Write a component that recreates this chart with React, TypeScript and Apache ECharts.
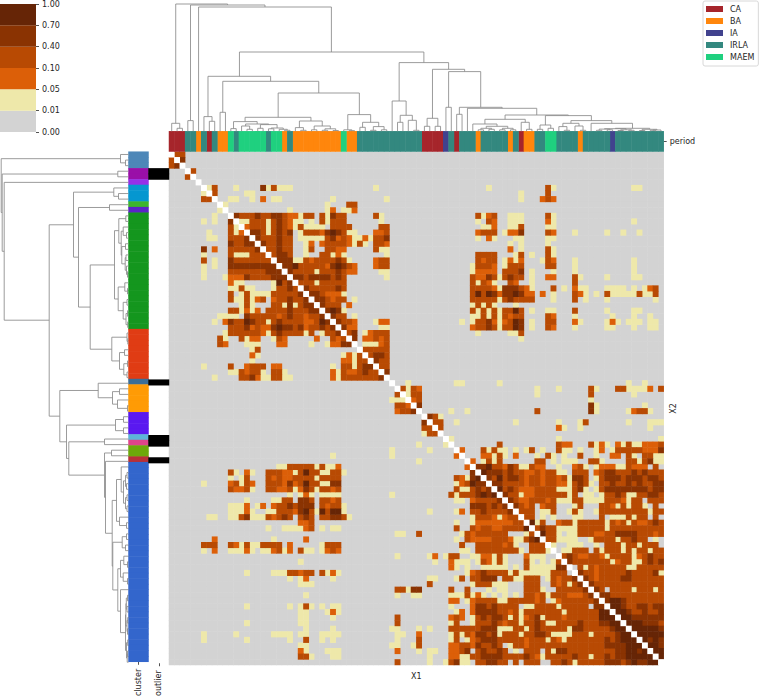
import React, { useEffect, useRef } from "react";
import * as echarts from "echarts";

const FONT = "DejaVu Sans";
const INK = "#262626";
const LINK = "#8a8a8a";

// p-value bins, bottom to top, and their colours
const levelColors = ["#D3D3D3", "#EEE8AA", "#DC5F08", "#B84A03", "#8A3302", "#662506"];
const levelTicks = ["0.00", "0.01", "0.05", "0.10", "0.40", "0.70", "1.00"];

// upper triangle, one entry per row: "firstColumn:levels" (column after the colon, then consecutive)
const upperRows: string[] = [
  /*0*/ "1:33",
  /*1*/ "2:4",
  /*2*/ "",
  /*3*/ "4:3",
  /*4*/ "",
  /*5*/ "",
  /*6*/ "7:13 12:1 17:413 20:111 38:1 59:1 70:31 86:11",
  /*7*/ "8:3 14:11 65:1 70:3",
  /*8*/ "11:11 15:1 17:2 19:11 30:1 40:1 65:1 69:232",
  /*9*/ "10:1 29:1 33:33",
  /*10*/ "22:1 29:1 30:2 32:11 34:2",
  /*11*/ "12:4333433443 22:22 24:1 25:33 28:3 29:1 30:433 38:31 57:3 58:1 59:23 63:111 70:31",
  /*12*/ "13:11 15:333 18:1 19:3432 23:1 24:1 26:1 28:3 29:1 30:333 39:1 57:1 59:32 63:111 70:21 86:1",
  /*13*/ "14:2333 18:1 19:3432 23:1 24:3 25:1111 30:3333 39:33 58:11 60:2 63:11 65:3 70:11",
  /*14*/ "15:4431 19:343 22:4 24:1 25:333 28:2 29:4 30:543 33:11 38:223 57:2 58:333 62:1 63:22 65:4 70:32 75:1 81:1 84:1 87:1",
  /*15*/ "16:4333 20:4 21:33 24:1 25:1111 29:3 30:4232 34:11 36:2 37:1 38:334 57:1 59:2 60:1 64:11 70:11",
  /*16*/ "17:4 18:3 19:3 20:4 21:33 25:1 26:2 28:2 29:3 30:3332 34:1 35:3 36:1 38:332 63:1 65:1 70:1",
  /*17*/ "18:3 19:34 21:33 25:11 26:3 29:3 30:322 38:311 63:2 65:1 70:31",
  /*18*/ "19:3443 25:1 28:3 29:3 30:121 40:1 57:3333 64:1 65:3 67:1 70:31",
  /*19*/ "20:444 23:11 25:32 27:3 28:3 29:3 30:343 33:1 38:233 57:3233 62:1 63:21 65:2 69:1 70:32 75:1 86:1",
  /*20*/ "21:445 24:3 25:3 26:33 28:3 29:2 30:4543 34:2 38:233 56:1 57:3332 62:1 63:333 70:33 75:1 86:1",
  /*21*/ "22:43 24:3 25:33 27:1 28:33 30:3432 34:2 39:11 56:1 57:2222 62:3 63:334 67:1 71:1 75:1 86:1",
  /*22*/ "23:44 25:3 26:4 27:44 29:4 30:343 40:1 56:3 57:2243 61:1 62:3 63:43 65:3 67:1 70:22 75:3 76:1 81:1 86:11",
  /*23*/ "24:3 25:33 27:1 28:3 29:3 30:333 56:3 57:1321 63:3 64:2 67:1 75:3",
  /*24*/ "25:43 27:3 28:3 29:3 30:343 56:3333 60:2 61:1 62:4443 66:2 67:1 71:3 73:1 75:2 76:11 81:1111 86:1 88:1 89:23",
  /*25*/ "26:4 27:4 28:3 29:2 30:221 56:3 57:5354 61:2 62:4454 66:22 69:2 71:1 75:3 76:2 77:1 79:1 81:3 82:11111 87:3 88:11 90:3",
  /*26*/ "27:4 28:4 29:3 30:233 34:1 56:3333 60:3 61:1 62:3433 66:33 71:1 75:3 77:1 81:1 90:1",
  /*27*/ "28:4 29:3 30:33 33:2 56:1 57:3131 64:1",
  /*28*/ "29:4 30:541 56:3 57:1313 61:1 62:3353 67:1 70:11 75:3 81:1 86:11",
  /*29*/ "30:433 34:1 56:11 58:313 61:1 62:3233 70:32 75:1 82:1 86:1 89:1",
  /*30*/ "31:43 33:32 38:1 39:22 54:1 56:1 57:334 60:2 61:1 62:2354 67:1 70:33 75:21 81:121 85:111 89:11",
  /*31*/ "32:4 33:22 39:11 56:2 57:3343 61:1 62:3354 67:1 70:32 75:1 81:11 86:1 89:11",
  /*32*/ "33:34 36:1 37:23 39:33 57:1 63:11 65:3",
  /*33*/ "34:4 36:22 38:323 65:1",
  /*34*/ "36:111 39:23",
  /*35*/ "36:33 38:333",
  /*36*/ "37:34 39:43",
  /*37*/ "38:433",
  /*38*/ "39:33",
  /*39*/ "40:4",
  /*40*/ "",
  /*41*/ "44:1 53:11 61:1 85:1 88:1",
  /*42*/ "43:3 44:1 45:32 68:1 72:1 78:31 83:33 85:1111 89:2 91:3",
  /*43*/ "44:1 45:33 68:1 78:3 86:1",
  /*44*/ "45:23 78:1",
  /*45*/ "46:4 78:41 88:1",
  /*46*/ "52:1 55:1 68:3 78:41 85:1 86:2 87:33 89:1",
  /*47*/ "48:431",
  /*48*/ "49:33 53:1 64:1 72:1 76:13 85:1 89:111",
  /*49*/ "50:3 72:21 76:1 89:1",
  /*50*/ "",
  /*51*/ "52:1 72:1 91:1",
  /*52*/ "61:3 72:322 78:3 79:1 80:2 81:1 83:2 84:1 85:3 86:11 88:222 91:3",
  /*53*/ "54:2 58:3 59:1 60:3 61:11 64:1 66:1 67:3 69:1 72:3 73:11 76:1 79:1 80:2 82:1 83:333 86:33 88:222 91:4",
  /*54*/ "58:2 59:2 60:1 61:3 62:1 64:2 68:1 70:3 71:1 73:1 76:3 79:1 82:22 85:3 86:1 88:33 90:11",
  /*55*/ "56:2 58:1 59:3 60:1 61:3 68:33 71:1 73:111 78:33 80:1 85:33 87:1 88:34 90:11",
  /*56*/ "57:4 58:45 60:3 61:3 62:2 63:4 64:3 65:11 67:3 68:22 72:1 75:23 77:1 79:1 80:222 83:11 85:3 86:22 88:2 90:3",
  /*57*/ "58:5444343322323311033302344333434333",
  /*58*/ "59:435344323323323144301344434443443",
  /*59*/ "60:44333323323322134310334334343344",
  /*60*/ "61:5343222333311134101344444444344",
  /*61*/ "62:433122333333130110133431133443",
  /*62*/ "63:43223332311133111133321330333",
  /*63*/ "64:4323023300013000332131331030",
  /*64*/ "65:333011300131001333333333133",
  /*65*/ "66:33010100011000301113133030",
  /*66*/ "67:5130023313333313231322343",
  /*67*/ "68:343311113333313333333333",
  /*68*/ "69:53310113332233444433323",
  /*69*/ "70:3311110013333133433010",
  /*70*/ "71:100111001033313313330",
  /*71*/ "72:01133303133313133133",
  /*72*/ "73:3432233213333123433",
  /*73*/ "74:433333331233113434",
  /*74*/ "75:03132333331133333",
  /*75*/ "76:4332333334333341",
  /*76*/ "77:432333344333333",
  /*77*/ "78:43333333333333",
  /*78*/ "79:4303333133313",
  /*79*/ "80:443333333333",
  /*80*/ "81:45543333333",
  /*81*/ "82:5543344344",
  /*82*/ "83:554334334",
  /*83*/ "84:55444444",
  /*84*/ "85:5554443",
  /*85*/ "86:555554",
  /*86*/ "87:55555",
  /*87*/ "88:5454",
  /*88*/ "89:554",
  /*89*/ "90:55",
  /*90*/ "91:5",
  /*91*/ "",
];

// period of each column, as [period, run length]
const periodNames = ["CA", "BA", "IA", "IRLA", "MAEM"];
const periodColors = ["#A6252B", "#FF860C", "#41428E", "#33887F", "#1FD07F"];
const periodRuns: [string, number][] = [
  ["CA", 3], ["IRLA", 2], ["BA", 1], ["IRLA", 1], ["CA", 1], ["IRLA", 1], ["BA", 2], ["MAEM", 1], ["IRLA", 1],
  ["MAEM", 5], ["IRLA", 1], ["MAEM", 2], ["BA", 1], ["IRLA", 1], ["BA", 9], ["MAEM", 1], ["BA", 2], ["IRLA", 12],
  ["CA", 4], ["IA", 1], ["IRLA", 1], ["CA", 1], ["IRLA", 3], ["BA", 1], ["IRLA", 5], ["BA", 1], ["IRLA", 1], ["CA", 1],
  ["BA", 2], ["IRLA", 2], ["MAEM", 2], ["IRLA", 4], ["BA", 1], ["IRLA", 5], ["IA", 1], ["IRLA", 9],
];

// cluster of each row, as [colour, run length]
const clusterRuns: [string, number][] = [
  ["#4D87B8", 3], ["#9A0FA8", 2], ["#9530E8", 1], ["#0597D0", 3], ["#3DB52D", 1], ["#5A24C8", 1], ["#14961E", 21],
  ["#E03C14", 9], ["#3A6E98", 1], ["#FF9B05", 5], ["#5A19F0", 4], ["#5DB4D8", 1], ["#E0448A", 1], ["#6DA90A", 2],
  ["#B83038", 1], ["#3366CC", 36],
];
const outlierRows = [3, 4, 41, 51, 52, 55];

// dendrogram merges: [left leaf pos, left height, right leaf pos, right height, merge height]
const merges: number[][] = [
  [1.5, 0, 2.5, 0, 3], [0.5, 0, 2, 3, 8], [3.5, 0, 4.5, 0, 10.7], [1.25, 8, 10.9, 126.3, 127.3], [4, 10.7, 17.85, 124.3, 126.3],
  [5.5, 0, 30.2, 79.3, 124.3], [13.1, 55, 47.4, 68.7, 79.3], [7.25, 14.7, 18.9, 50, 55], [6.5, 0, 8, 10, 14.7], [7.5, 0, 8.5, 0, 10],
  [10, 19, 27.85, 38.3, 50], [9.5, 0, 10.5, 0, 19], [20.3, 14, 35.4, 16.7, 38.3], [14.15, 9.7, 26.4, 10.3, 14],
  [11.5, 0, 12.5, 0, 2.7], [13.5, 0, 15, 2, 5.3], [14.5, 0, 15.5, 0, 2], [16.5, 0, 17.5, 0, 3], [18.5, 0, 19.5, 0, 2.5],
  [21.5, 0, 22.5, 0, 1], [20.5, 0, 22, 1, 2], [19, 2.5, 21.25, 2, 3.3], [17, 3, 20.1, 3.3, 6.7], [14.25, 5.3, 18.55, 6.7, 7.3],
  [12, 2.7, 16.4, 7.3, 9.7], [24.5, 0, 25.5, 0, 1], [23.5, 0, 25, 1, 3.7], [26.5, 0, 27.5, 0, 1.5], [28.5, 0, 29.5, 0, 1],
  [30.5, 0, 31.5, 0, 0.8], [29, 1, 31, 0.8, 2.5], [27, 1.5, 30, 2.5, 5.3], [24.25, 3.7, 28.5, 5.3, 10.3],
  [33.25, 1.5, 37.5, 9, 16.7], [33.5, 0, 34.5, 0, 0.7], [32.5, 0, 34, 0.7, 1.5], [35.5, 0, 36.5, 0, 4], [37.5, 0, 38.5, 0, 1],
  [39.5, 0, 40.5, 0, 1.5], [38, 1, 40, 1.5, 4.7], [36, 4, 39, 4.7, 9],
  [42.8, 30.3, 52, 62, 68.7], [41.5, 0, 44.1, 16, 30.3], [43, 9, 45.25, 11, 16], [42.5, 0, 43.5, 0, 9], [44.5, 0, 46, 1, 11], [45.5, 0, 46.5, 0, 1],
  [49, 13, 54.98, 59.7, 62], [48, 5, 50, 5, 13], [47.5, 0, 48.5, 0, 5], [49.5, 0, 50.5, 0, 5], [52, 24, 57.97, 24, 59.7], [51.5, 0, 52.5, 0, 24],
  [54, 17, 61.95, 23, 24], [53.5, 0, 54.5, 0, 17], [55.5, 0, 68.39, 16.3, 23], [62.5, 12, 74.28, 15.7, 16.3], [58.75, 7.3, 66.25, 9, 12],
  [56.5, 0, 61, 5, 7.3], [59, 3, 63, 3, 5], [58, 1.5, 60, 2, 3], [57.5, 0, 58.5, 0, 1.5], [59.5, 0, 60.5, 0, 2], [62, 1.5, 64, 1.5, 3],
  [61.5, 0, 62.5, 0, 1.5], [63.5, 0, 64.5, 0, 1.5], [65.5, 0, 67, 2, 9], [66.5, 0, 67.5, 0, 2],
  [70, 6.3, 78.55, 10.7, 15.7], [69, 2, 71, 3, 6.3], [68.5, 0, 69.5, 0, 2], [70.5, 0, 71.5, 0, 3], [74.75, 8, 82.35, 8, 10.7],
  [73.25, 4.7, 76.25, 5.3, 8], [72.5, 0, 74, 1, 4.7], [73.5, 0, 74.5, 0, 1], [75.5, 0, 77, 1, 5.3], [76.5, 0, 77.5, 0, 1],
  [78.5, 0, 86.2, 3, 8], [83, 2.6, 89.4, 2, 3], [81, 2.2, 85, 1.5, 2.6], [80, 1, 82, 1.5, 2.2], [79.5, 0, 80.5, 0, 1], [81.5, 0, 82.5, 0, 1.5],
  [84, 0.8, 86, 1, 1.5], [83.5, 0, 84.5, 0, 0.8], [85.5, 0, 86.5, 0, 1], [88, 0.8, 90.75, 1.3, 2], [87.5, 0, 88.5, 0, 0.8], [90, 1, 91.5, 0, 1.3], [89.5, 0, 90.5, 0, 1],
];

const N = upperRows.length;
const indices = Array.from({ length: N }, (_, i) => String(i));

function buildMatrix(): number[][] {
  const m = Array.from({ length: N }, () => new Array(N).fill(0));
  upperRows.forEach((row, r) => {
    row.split(" ").filter(Boolean).forEach((tok) => {
      const [start, levels] = tok.split(":");
      [...levels].forEach((ch, k) => {
        const c = Number(start) + k;
        if (c < N && c > r) {
          m[r][c] = Number(ch);
          m[c][r] = Number(ch);
        }
      });
    });
  });
  return m;
}

function buildOption() {
  const m = buildMatrix();
  const byLevel: number[][][] = levelColors.map(() => []);
  const diag: number[][] = [];
  for (let r = 0; r < N; r++) {
    for (let c = 0; c < N; c++) {
      if (r === c) diag.push([c, r]);
      else byLevel[m[r][c]].push([c, r]);
    }
  }

  const palette: string[] = [];
  const heat = (name: string, color: string, data: number[][], axis: number) => {
    const key = palette.length;
    palette.push(color);
    return {
      type: "heatmap" as const,
      name,
      xAxisIndex: axis,
      yAxisIndex: axis,
      data: data.map(([x, y]) => [x, y, key]),
      silent: true,
      progressive: 0,
      itemStyle: { color, borderWidth: 0 },
      emphasis: { disabled: true },
    };
  };

  const levelSeries = byLevel.map((d, i) => heat(`level ${i}`, levelColors[i], d, 0));
  const diagSeries = heat("diagonal", "#FFFFFF", diag, 0);

  const periodCells: Record<string, number[][]> = {};
  periodNames.forEach((p) => (periodCells[p] = []));
  let col = 0;
  periodRuns.forEach(([p, n]) => {
    for (let i = 0; i < n; i++) periodCells[p].push([col++, 0]);
  });
  const periodSeries = periodNames.map((p, i) => heat(p, periodColors[i], periodCells[p], 1));

  let row = 0;
  const clusterSeries = clusterRuns.map(([color, n], idx) => {
    const d: number[][] = [];
    for (let i = 0; i < n; i++) d.push([0, row++]);
    return heat(`cluster ${idx}`, color, d, 2);
  });
  const outlierSeries = heat("outlier", "#000000", outlierRows.map((r) => [0, r]), 3);
  const heatSeries = [...levelSeries, diagSeries, ...periodSeries, ...clusterSeries, outlierSeries];

  const colorbarSeries = levelColors.map((color, i) => ({
    type: "bar" as const,
    name: `bin ${i}`,
    xAxisIndex: 4,
    yAxisIndex: 4,
    stack: "bins",
    barWidth: "100%",
    silent: true,
    itemStyle: { color },
    data: [1],
  }));

  const stroke = { stroke: LINK, fill: "none", lineWidth: 0.85 };
  const dendroTop = {
    type: "custom" as const,
    name: "dendrogram col",
    xAxisIndex: 5,
    yAxisIndex: 5,
    silent: true,
    clip: false,
    encode: { x: [0, 2], y: [1, 3, 4] },
    data: merges,
    renderItem: (_: unknown, api: any) => {
      const [a, b, c, d, h] = [0, 1, 2, 3, 4].map((k) => api.value(k));
      return {
        type: "polyline",
        shape: { points: [api.coord([a, b]), api.coord([a, h]), api.coord([c, h]), api.coord([c, d])] },
        style: stroke,
      };
    },
  };
  const dendroLeft = {
    type: "custom" as const,
    name: "dendrogram row",
    xAxisIndex: 6,
    yAxisIndex: 6,
    silent: true,
    clip: false,
    encode: { y: [0, 2], x: [1, 3, 4] },
    data: merges,
    renderItem: (_: unknown, api: any) => {
      const [a, b, c, d, h] = [0, 1, 2, 3, 4].map((k) => api.value(k));
      return {
        type: "polyline",
        shape: { points: [api.coord([b, a]), api.coord([h, a]), api.coord([h, c]), api.coord([d, c])] },
        style: stroke,
      };
    },
  };

  const off = { show: false };
  const hiddenCat = (grid: number, data: string[], extra: object = {}) => ({
    type: "category" as const,
    gridIndex: grid,
    data,
    axisLine: off,
    axisTick: off,
    axisLabel: off,
    splitLine: off,
    ...extra,
  });
  const hiddenVal = (grid: number, min: number, max: number, extra: object = {}) => ({
    type: "value" as const,
    gridIndex: grid,
    min,
    max,
    show: false,
    ...extra,
  });
  const label = { show: true, color: INK, fontFamily: FONT, fontSize: 8 };
  const tick = { show: true, length: 3, alignWithLabel: true, lineStyle: { color: INK, width: 0.8 } };
  const nameText = { color: INK, fontFamily: FONT, fontSize: 8 };

  return {
    animation: false,
    backgroundColor: "#FFFFFF",
    grid: [
      { left: 169, top: 151.7, width: 494.7, height: 513.3 },
      { left: 169, top: 131.3, width: 494.7, height: 20.2 },
      { left: 128.5, top: 151.7, width: 20, height: 513.3 },
      { left: 148.5, top: 151.7, width: 20.5, height: 513.3 },
      { left: 0, top: 3, width: 36, height: 129 },
      { left: 169, top: 0, width: 494.7, height: 131.3 },
      { left: 0, top: 151.7, width: 128.5, height: 513.3 },
    ],
    xAxis: [
      hiddenCat(0, indices, { name: "X1", nameLocation: "middle", nameGap: 7, nameTextStyle: nameText }),
      hiddenCat(1, indices),
      { type: "category", gridIndex: 2, data: ["cluster"], axisLine: off, axisTick: tick, axisLabel: { ...label, rotate: 90, margin: 7 } },
      { type: "category", gridIndex: 3, data: ["outlier"], axisLine: off, axisTick: tick, axisLabel: { ...label, rotate: 90, margin: 7 } },
      hiddenCat(4, ["bins"]),
      hiddenVal(5, 0, 92),
      hiddenVal(6, 0, 128.5, { inverse: true }),
    ],
    yAxis: [
      hiddenCat(0, indices, { inverse: true, position: "right", name: "X2", nameLocation: "middle", nameGap: 6, nameRotate: 90, nameTextStyle: nameText }),
      { type: "category", gridIndex: 1, data: ["period"], position: "right", axisLine: off, axisTick: tick, axisLabel: { ...label, margin: 6 } },
      hiddenCat(2, indices, { inverse: true }),
      hiddenCat(3, indices, { inverse: true }),
      {
        type: "value",
        gridIndex: 4,
        min: 0,
        max: 6,
        interval: 1,
        position: "right",
        axisLine: off,
        splitLine: off,
        axisTick: { show: true, length: 3, lineStyle: { color: INK, width: 0.8 } },
        axisLabel: { ...label, margin: 6, formatter: (v: number) => levelTicks[v] },
      },
      hiddenVal(5, 0, 131.3),
      hiddenVal(6, 0, 92, { inverse: true }),
    ],
    visualMap: {
      type: "piecewise",
      show: false,
      dimension: 2,
      seriesIndex: heatSeries.map((_, i) => i),
      pieces: palette.map((color, i) => ({ value: i, color })),
    },
    legend: {
      data: periodNames,
      orient: "vertical",
      left: 703,
      top: 1,
      icon: "rect",
      itemWidth: 17,
      itemHeight: 6,
      itemGap: 4,
      padding: [4, 4, 5, 3],
      selectedMode: false,
      backgroundColor: "#FFFFFF",
      borderColor: "#D8D8D8",
      borderWidth: 1,
      borderRadius: 2,
      textStyle: { color: INK, fontFamily: FONT, fontSize: 8, padding: [0, 0, 0, 2] },
    },
    series: [...heatSeries, ...colorbarSeries, dendroTop, dendroLeft],
  };
}

export default function App() {
  const ref = useRef<HTMLDivElement>(null);
  useEffect(() => {
    if (!ref.current) return;
    const chart = echarts.init(ref.current, undefined, { renderer: "svg" });
    chart.setOption(buildOption() as any);
    return () => chart.dispose();
  }, []);
  return <div ref={ref} style={{ position: "absolute", left: 0, top: 0, width: 759, height: 699 }} />;
}
